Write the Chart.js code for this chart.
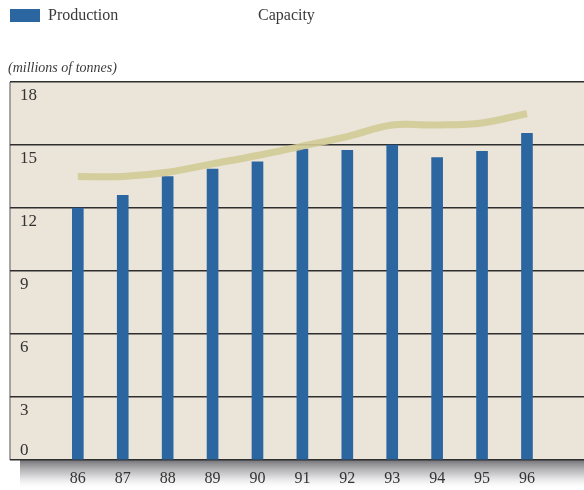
<!DOCTYPE html>
<html>
<head>
<meta charset="utf-8">
<script src="https://cdn.jsdelivr.net/npm/chart.js@4/dist/chart.umd.min.js"></script>
<style>
  html, body { margin: 0; padding: 0; background: #ffffff; }
  #wrap { position: relative; width: 584px; height: 490px; overflow: hidden; }
  #chart { position: absolute; left: 0; top: 0; }
  .legend { position: absolute; top: 6px; font-family: "Liberation Serif", "DejaVu Serif", serif; font-size: 16px; color: #3a3a3a; }
  .swatch { position: absolute; left: 10px; top: 9px; width: 30px; height: 13px; background: #2c66a0; }
  #unit { position: absolute; left: 8px; top: 60px; font-family: "Liberation Serif", serif; font-style: italic; font-size: 14px; color: #3a3a3a; }
</style>
</head>
<body>
<div id="wrap">
  <canvas id="chart" width="584" height="490"></canvas>
  <div class="swatch"></div>
  <div class="legend" style="left:48px">Production</div>
  <div class="legend" style="left:258px">Capacity</div>
  <div id="unit">(millions of tonnes)</div>
</div>
<script>
/* ===============================
   DATA
================================= */

const years = [86, 87, 88, 89, 90, 91, 92, 93, 94, 95, 96];
const production = [12.0, 12.6, 13.5, 13.85, 14.2, 14.8, 14.75, 15.0, 14.4, 14.7, 15.55];
const capacity = [13.5, 13.5, 13.7, 14.1, 14.5, 14.95, 15.4, 15.95, 15.95, 16.05, 16.5];
const yTicks = [0, 3, 6, 9, 12, 15, 18];

/* ===============================
   PLUGINS
================================= */

// beige panel, left border and shadow under the plot
const panelBackground = {
  id: "panelBackground",
  beforeDraw(chart) {
    const { ctx, chartArea } = chart;
    ctx.save();
    const grad = ctx.createLinearGradient(0, chartArea.bottom, 0, chartArea.bottom + 30);
    grad.addColorStop(0, "rgba(90,90,95,0.85)");
    grad.addColorStop(0.5, "rgba(150,150,155,0.45)");
    grad.addColorStop(1, "rgba(255,255,255,0)");
    ctx.fillStyle = grad;
    ctx.fillRect(chartArea.left + 10, chartArea.bottom, chartArea.right - chartArea.left, 30);

    ctx.fillStyle = "#ebe4d8";
    ctx.fillRect(chartArea.left, chartArea.top, chartArea.right - chartArea.left, chartArea.bottom - chartArea.top);

    ctx.strokeStyle = "#8a8a8a";
    ctx.lineWidth = 1.5;
    ctx.beginPath();
    ctx.moveTo(chartArea.left, chartArea.top);
    ctx.lineTo(chartArea.left, chartArea.bottom);
    ctx.stroke();
    ctx.restore();
  }
};

// y labels sit inside the panel, just under their gridline
const innerYLabels = {
  id: "innerYLabels",
  afterDatasetsDraw(chart) {
    const { ctx, chartArea } = chart;
    const y = chart.scales.y;
    ctx.save();
    ctx.font = "17px 'Liberation Serif', serif";
    ctx.fillStyle = "#333333";
    ctx.textAlign = "left";
    yTicks.forEach(v => {
      const py = y.getPixelForValue(v);
      if (v === 0) {
        ctx.textBaseline = "bottom";
        ctx.fillText(String(v), chartArea.left + 10, py - 1);
      } else {
        ctx.textBaseline = "top";
        ctx.fillText(String(v), chartArea.left + 10, py + 5);
      }
    });
    ctx.restore();
  }
};

/* ===============================
   CHART
================================= */

new Chart(document.getElementById("chart"), {
  type: "bar",
  data: {
    datasets: [
      {
        type: "line",
        label: "Capacity",
        data: years.map((yr, i) => ({ x: yr, y: capacity[i] })),
        borderColor: "rgba(210,202,150,0.9)",
        borderWidth: 7,
        pointRadius: 0,
        tension: 0.35,
        borderCapStyle: "butt",
        order: 1
      },
      {
        label: "Production",
        data: years.map((yr, i) => ({ x: yr, y: production[i] })),
        backgroundColor: "#2c66a0",
        barThickness: 11,
        order: 2
      }
    ]
  },
  options: {
    responsive: false,
    animation: false,
    layout: { padding: { left: 10, right: 0, top: 82, bottom: 0 } },
    plugins: {
      legend: { display: false },
      tooltip: { enabled: false }
    },
    scales: {
      x: {
        type: "linear",
        offset: false,
        min: 84.49,
        max: 97.27,
        afterBuildTicks(axis) {
          axis.ticks = years.map(v => ({ value: v }));
        },
        afterFit(axis) {
          axis.height = 30;
        },
        grid: { display: false, drawTicks: false },
        border: { display: false },
        ticks: {
          color: "#333333",
          font: { family: "'Liberation Serif', serif", size: 16 },
          padding: 9,
          maxRotation: 0,
          autoSkip: false,
          callback: v => String(v)
        }
      },
      y: {
        min: 0,
        max: 18,
        afterBuildTicks(axis) {
          axis.ticks = yTicks.map(v => ({ value: v }));
        },
        grid: { color: "#2e2e2e", lineWidth: 1.5, drawTicks: false },
        border: { display: false },
        ticks: { display: false }
      }
    }
  },
  plugins: [panelBackground, innerYLabels]
});
</script>
</body>
</html>
